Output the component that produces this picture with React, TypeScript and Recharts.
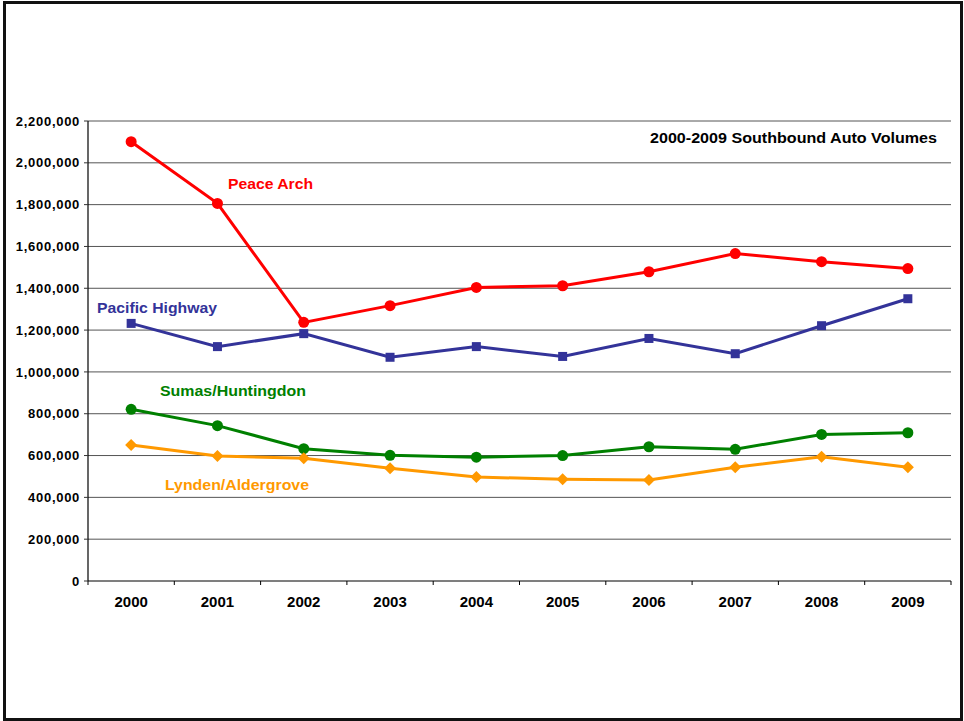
import React from 'react';
import { LineChart, Line, XAxis, YAxis, CartesianGrid, Customized } from 'recharts';

const years = ['2000', '2001', '2002', '2003', '2004', '2005', '2006', '2007', '2008', '2009'];
const peaceArch = [2101000, 1806000, 1237000, 1317000, 1404000, 1412000, 1479000, 1566000, 1527000, 1494000];
const pacificHighway = [1232000, 1121000, 1183000, 1070000, 1121000, 1074000, 1160000, 1087000, 1221000, 1350000];
const sumasHuntingdon = [821000, 743000, 633000, 601000, 592000, 600000, 642000, 630000, 701000, 709000];
const lyndenAldergrove = [650000, 598000, 587000, 539000, 497000, 487000, 483000, 544000, 594000, 544000];
const yTicks = [0, 200000, 400000, 600000, 800000, 1000000, 1200000, 1400000, 1600000, 1800000, 2000000, 2200000];

const data = years.map((y, i) => ({
  year: y,
  peace: peaceArch[i],
  pacific: pacificHighway[i],
  sumas: sumasHuntingdon[i],
  lynden: lyndenAldergrove[i],
}));

const RED = '#FF0000';
const BLUE = '#333399';
const GREEN = '#008000';
const ORANGE = '#FF9900';

const CHART_W = 964;
const CHART_H = 721;
const PLOT_LEFT = 88;
const PLOT_RIGHT = 951;
const BAND = (PLOT_RIGHT - PLOT_LEFT) / years.length;
const FONT = 'Arial, "Liberation Sans", sans-serif';

const CircleDot = (color: string) => (props: any) => {
  const { cx, cy, index } = props;
  if (cx == null || cy == null) return null;
  return <circle key={index} cx={cx} cy={cy} r={5.5} fill={color} stroke="none" />;
};
const SquareDot = (color: string) => (props: any) => {
  const { cx, cy, index } = props;
  if (cx == null || cy == null) return null;
  return <rect key={index} x={cx - 4.5} y={cy - 4.5} width={9} height={9} fill={color} stroke="none" />;
};
const DiamondDot = (color: string) => (props: any) => {
  const { cx, cy, index } = props;
  if (cx == null || cy == null) return null;
  const r = 6;
  return (
    <polygon
      key={index}
      points={`${cx},${cy - r} ${cx + r},${cy} ${cx},${cy + r} ${cx - r},${cy}`}
      fill={color}
      stroke="none"
    />
  );
};

const YearTick = (props: any) => {
  const { x, y, payload, index } = props;
  const half = BAND / 2;
  return (
    <g>
      <line x1={x - half} x2={x - half} y1={y} y2={y + 4} stroke="#000" strokeWidth={1} />
      {index === years.length - 1 && (
        <line x1={x + half} x2={x + half} y1={y} y2={y + 4} stroke="#000" strokeWidth={1} />
      )}
      <text x={x} y={y + 26} textAnchor="middle" fontFamily={FONT} fontWeight="bold" fontSize={15} fill="#000">
        {payload.value}
      </text>
    </g>
  );
};

const Labels = () => (
  <g fontFamily={FONT} fontWeight="bold">
    <text x={650} y={143} textLength={287} lengthAdjust="spacingAndGlyphs" fontSize={14.5} fill="#000">
      2000-2009 Southbound Auto Volumes
    </text>
    <text x={228} y={189} textLength={85} lengthAdjust="spacingAndGlyphs" fontSize={15.5} fill={RED}>Peace Arch</text>
    <text x={97} y={313} textLength={120} lengthAdjust="spacingAndGlyphs" fontSize={15.5} fill={BLUE}>Pacific Highway</text>
    <text x={160} y={396} textLength={146} lengthAdjust="spacingAndGlyphs" fontSize={15.5} fill={GREEN}>Sumas/Huntingdon</text>
    <text x={165} y={490} textLength={144} lengthAdjust="spacingAndGlyphs" fontSize={15.5} fill={ORANGE}>Lynden/Aldergrove</text>
  </g>
);

export default function App() {
  return (
    <div style={{ position: 'absolute', left: 0, top: 0, width: CHART_W, height: CHART_H, background: '#fff' }}>
      <div
        style={{
          position: 'absolute',
          left: 3,
          top: 1,
          width: 960,
          height: 720,
          border: '3px solid #111',
          boxSizing: 'border-box',
        }}
      />
      <div style={{ position: 'absolute', left: 0, top: 0 }}>
        <LineChart
          width={CHART_W}
          height={CHART_H}
          data={data}
          margin={{ top: 121, right: CHART_W - PLOT_RIGHT, bottom: 110, left: 0 }}
        >
          <CartesianGrid horizontal vertical={false} stroke="#555" strokeWidth={1} />
          <XAxis
            dataKey="year"
            height={30}
            padding={{ left: BAND / 2, right: BAND / 2 }}
            tickLine={false}
            tickSize={0}
            tickMargin={0}
            axisLine={{ stroke: '#555', strokeWidth: 1.2 }}
            tick={<YearTick />}
            interval={0}
          />
          <YAxis
            width={PLOT_LEFT}
            domain={[0, 2200000]}
            ticks={yTicks}
            interval={0}
            tickSize={4}
            tickMargin={4}
            tickLine={{ stroke: '#333' }}
            axisLine={{ stroke: '#000', strokeWidth: 1.2 }}
            tickFormatter={(v: number) => v.toLocaleString('en-US')}
            tick={{ fill: '#000', fontFamily: FONT, fontWeight: 'bold', fontSize: 13, letterSpacing: 0.7 }}
          />
          <Line dataKey="peace" stroke={RED} strokeWidth={3} dot={CircleDot(RED)} activeDot={false} isAnimationActive={false} />
          <Line dataKey="pacific" stroke={BLUE} strokeWidth={3} dot={SquareDot(BLUE)} activeDot={false} isAnimationActive={false} />
          <Line dataKey="sumas" stroke={GREEN} strokeWidth={3} dot={CircleDot(GREEN)} activeDot={false} isAnimationActive={false} />
          <Line dataKey="lynden" stroke={ORANGE} strokeWidth={3} dot={DiamondDot(ORANGE)} activeDot={false} isAnimationActive={false} />
          <Customized component={Labels} />
        </LineChart>
      </div>
    </div>
  );
}
